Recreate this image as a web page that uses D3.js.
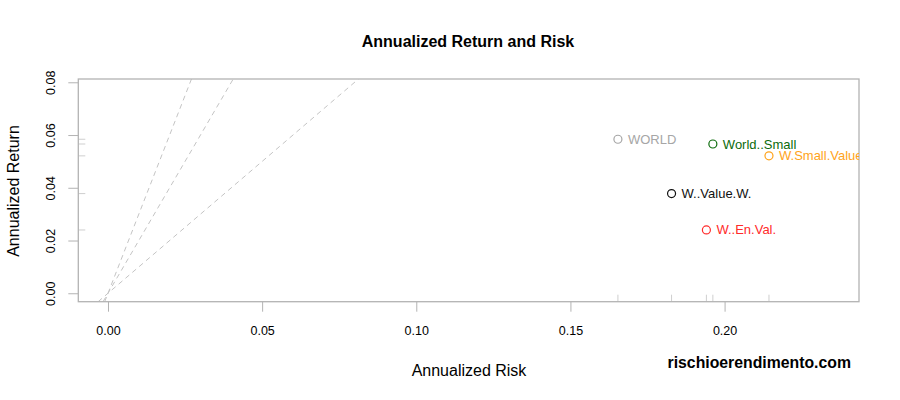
<!DOCTYPE html>
<meta charset="utf-8">
<style>
  body { margin: 0; background: #fff; }
  text { font-family: "Liberation Sans", Arial, sans-serif; }
  .box { fill: none; stroke: #b3b3b3; stroke-width: 1.3px; }
  .tick line, .domain { stroke: #b3b3b3; }
  .rug { stroke: #cfcfcf; }
  .sharpe { stroke: #c4c4c4; stroke-dasharray: 5,4; fill: none; }
</style>
<body>
<script src="https://d3js.org/d3.v7.min.js"></script>
<script>

var names   = ["WORLD", "World..Small", "W.Small.Value", "W..Value.W.", "W..En.Val."],
    risk    = [0.1654, 0.1962, 0.2144, 0.1828, 0.1941],
    ret     = [0.0584, 0.0566, 0.0521, 0.0378, 0.0240],
    colors  = ["#a6a6a6", "#0b6b0b", "#ffa31a", "#111111", "#ff2a2a"];

var xTicks  = [0, 0.05, 0.10, 0.15, 0.20],
    yTicks  = [0, 0.02, 0.04, 0.06, 0.08],
    sharpes = [1, 2, 3];

var width = 900, height = 400,
    pLeft = 78.3, pRight = 859, pTop = 79, pBottom = 301.7;

var x = d3.scaleLinear().domain([-0.00963, 0.2436]).range([pLeft, pRight]);
var y = d3.scaleLinear().domain([-0.0032, 0.08125]).range([pBottom, pTop]);

var svg = d3.select("body").append("svg")
    .attr("width", width)
    .attr("height", height);

svg.append("defs").append("clipPath").attr("id", "plot")
  .append("rect")
    .attr("x", pLeft).attr("y", pTop)
    .attr("width", pRight - pLeft).attr("height", pBottom - pTop);

// sharpe ratio lines
var g = svg.append("g").attr("clip-path", "url(#plot)");
g.selectAll(".sharpe")
    .data(sharpes)
  .enter().append("line")
    .attr("class", "sharpe")
    .attr("x1", function(s) { return x(y.domain()[0] / s); })
    .attr("y1", y(y.domain()[0]))
    .attr("x2", function(s) { return x(y.domain()[1] / s); })
    .attr("y2", y(y.domain()[1]));

// axes
var xAxis = svg.append("g")
    .attr("transform", "translate(0," + pBottom + ")")
    .call(d3.axisBottom(x).tickValues(xTicks).tickFormat(d3.format(".2f")).tickSizeOuter(0).tickSize(10).tickPadding(14));
xAxis.select(".domain").remove();
xAxis.selectAll("text").attr("font-size", 12.5).attr("fill", "#000");

var yAxis = svg.append("g")
    .attr("transform", "translate(" + pLeft + ",0)")
    .call(d3.axisLeft(y).tickValues(yTicks).tickFormat(d3.format(".2f")).tickSizeOuter(0).tickSize(10));
yAxis.select(".domain").remove();
yAxis.selectAll("text")
    .attr("font-size", 12.5).attr("fill", "#000")
    .attr("x", null).attr("dy", null)
    .attr("text-anchor", "middle")
    .attr("transform", "translate(-23,0) rotate(-90)")
    .attr("y", 0);

// rugs
svg.selectAll(".rugx")
    .data(risk)
  .enter().append("line")
    .attr("class", "rug")
    .attr("x1", function(d) { return x(d); })
    .attr("x2", function(d) { return x(d); })
    .attr("y1", pBottom).attr("y2", pBottom - 7);

svg.selectAll(".rugy")
    .data(ret)
  .enter().append("line")
    .attr("class", "rug")
    .attr("y1", function(d) { return y(d); })
    .attr("y2", function(d) { return y(d); })
    .attr("x1", pLeft).attr("x2", pLeft + 7);

svg.append("rect")
    .attr("class", "box")
    .attr("x", pLeft).attr("y", pTop)
    .attr("width", pRight - pLeft).attr("height", pBottom - pTop);

// points and labels
var pts = svg.append("g").attr("clip-path", "url(#plot)");
pts.selectAll("circle")
    .data(names)
  .enter().append("circle")
    .attr("cx", function(d, i) { return x(risk[i]); })
    .attr("cy", function(d, i) { return y(ret[i]); })
    .attr("r", 4)
    .attr("fill", "none")
    .attr("stroke", function(d, i) { return colors[i]; })
    .attr("stroke-width", 1.2);

pts.selectAll(".lab")
    .data(names)
  .enter().append("text")
    .attr("x", function(d, i) { return x(risk[i]) + 10; })
    .attr("y", function(d, i) { return y(ret[i]) + 4.5; })
    .attr("font-size", 13)
    .attr("fill", function(d, i) { return colors[i]; })
    .text(function(d) { return d; });

// titles
svg.append("text")
    .attr("x", 468).attr("y", 47)
    .attr("text-anchor", "middle")
    .attr("font-size", 16).attr("font-weight", "bold")
    .text("Annualized Return and Risk");

svg.append("text")
    .attr("x", 469).attr("y", 376)
    .attr("text-anchor", "middle")
    .attr("font-size", 16)
    .text("Annualized Risk");

svg.append("text")
    .attr("transform", "translate(19,191) rotate(-90)")
    .attr("text-anchor", "middle")
    .attr("font-size", 16)
    .text("Annualized Return");

svg.append("text")
    .attr("x", 851).attr("y", 368)
    .attr("text-anchor", "end")
    .attr("font-size", 15.8).attr("font-weight", "bold")
    .text("rischioerendimento.com");

</script>
</body>
